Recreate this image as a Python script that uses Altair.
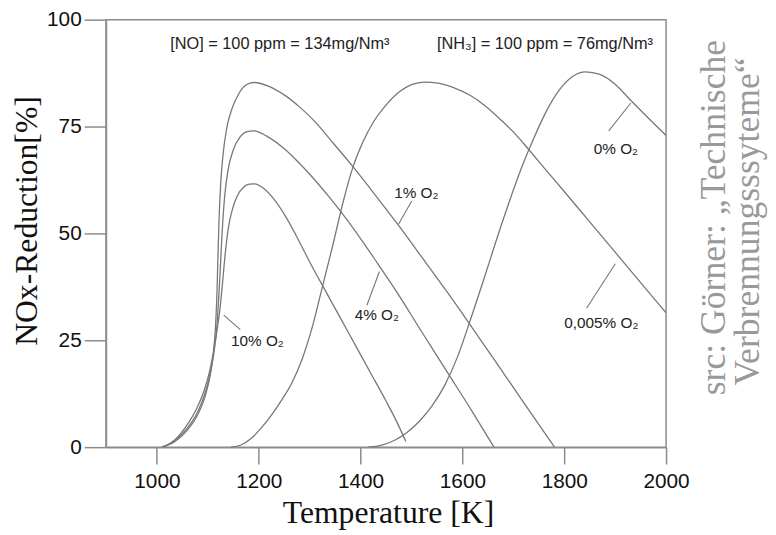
import altair as alt
import pandas as pd

# ---- curve data (Temperature [K], NOx reduction [%]) ----
names = ["10% O₂", "4% O₂", "1% O₂", "0,005% O₂", "0% O₂"]

t_10 = [1010, 1035, 1058, 1078, 1093, 1105, 1113, 1119, 1124, 1129, 1134, 1140, 1148, 1158, 1170, 1182, 1192,
        1210, 1230, 1255, 1280, 1305, 1330, 1360, 1390, 1420, 1450, 1470, 1489]
r_10 = [0, 1.7, 5, 9, 13.3, 18.5, 23.5, 28, 32.5, 38.5, 45, 51, 55.5, 58.8, 60.8, 61.5, 61.6,
        60.5, 58, 53.5, 48, 42.2, 36.8, 30.3, 23.8, 17.3, 10.8, 6.2, 1.3]

t_4 = [1010, 1035, 1060, 1080, 1095, 1106, 1113, 1118, 1121, 1124, 1128, 1133, 1140, 1150, 1163, 1177, 1190,
       1215, 1245, 1275, 1305, 1335, 1365, 1400, 1435, 1470, 1520, 1570, 1620, 1662]
r_4 = [0, 1.5, 4.5, 8.2, 12.8, 18, 23, 28.5, 34, 40.5, 50, 58.5, 65, 69.5, 72.5, 73.8, 74,
       72.8, 70.3, 67, 63.2, 59, 54.5, 48.8, 42.7, 36.5, 27, 17.6, 8.2, 0]

t_1 = [1010, 1035, 1060, 1080, 1095, 1105, 1111, 1115, 1118, 1120, 1122, 1125, 1130, 1137, 1147, 1160, 1175, 1190,
       1220, 1250, 1280, 1310, 1340, 1385, 1430, 1475, 1520, 1570, 1620, 1670, 1720, 1781]
r_1 = [0, 1.3, 4, 7.5, 12, 17, 22, 28, 36, 45, 53, 61, 68.5, 74.5, 79, 82.5, 84.7, 85.3,
       84.4, 82.4, 79.6, 76.2, 72, 65.6, 58.8, 51.8, 44.5, 36.3, 27.8, 19.2, 10.5, 0]

t_0005 = [1145, 1165, 1185, 1205, 1225, 1245, 1265, 1285, 1305, 1325, 1345, 1365, 1385, 1405, 1425, 1450,
          1475, 1500, 1525, 1555, 1585, 1615, 1645, 1675, 1705, 1729, 1760, 1800, 1850, 1900, 1950, 2000]
r_0005 = [0, 0.5, 2, 4.5, 7.5, 11, 15, 20.5, 28, 37.5, 47, 57, 65.5, 71.5, 76, 80,
          83, 84.8, 85.4, 85.1, 84, 82.3, 79.8, 76.6, 73.1, 69.8, 65.4, 59.8, 52.7, 45.6, 38.5, 31.4]

t_0 = [1415, 1440, 1465, 1490, 1515, 1540, 1565, 1590, 1615, 1640, 1665, 1690, 1715, 1740, 1765, 1790,
       1815, 1842, 1870, 1900, 1930, 1965, 2000]
r_0 = [0, 0.4, 1.5, 3.3, 6, 9.6, 14.4, 21, 29.5, 38.5, 47.8, 56.7, 65, 72.2, 78.6, 83.5,
       86.6, 87.8, 87.2, 84.9, 81.2, 77, 72.9]

# ---- curve labels and leader lines ----
lab_T = [1145.5, 1388.5, 1466, 1800, 1858]
lab_R = [23.6, 29.8, 58.2, 27.9, 68.6]
lead_T1 = [1131.3, 1437, 1500.6, 1900.2, 1930.7]
lead_R1 = [30.9, 41.1, 57.6, 42.9, 80.5]
lead_T2 = [1163.8, 1412.5, 1474.7, 1843.9, 1887.4]
lead_R2 = [27.5, 33.2, 52.2, 32.5, 74]

# ---- top annotations ----
ann_text = ["[NO] = 100 ppm = 134mg/Nm³", "[NH₃] = 100 ppm = 76mg/Nm³"]
ann_T = [1026, 1550]
ann_R = [93.2, 93.2]

src_lines = ["src: Görner: „Technische", "Verbrennungsssyteme“"]

x_ticks = [1000, 1200, 1400, 1600, 1800, 2000]
y_ticks = [0, 25, 50, 75, 100]

# ---- build tables ----
rows = []
for name, ts, rs in zip(names, [t_10, t_4, t_1, t_0005, t_0], [r_10, r_4, r_1, r_0005, r_0]):
    for i, (t, r) in enumerate(zip(ts, rs)):
        rows.append({"series": name, "T": t, "R": r, "order": i})
df = pd.DataFrame(rows)
df_lab = pd.DataFrame({"label": names, "T": lab_T, "R": lab_R})
df_lead = pd.DataFrame({"T": lead_T1, "R": lead_R1, "T2": lead_T2, "R2": lead_R2})
df_ann = pd.DataFrame({"label": ann_text, "T": ann_T, "R": ann_R})

GRAY = "#8c8c8c"
LINE = "#777777"

xscale = alt.Scale(domain=[900, 2000], nice=False, zero=False)
yscale = alt.Scale(domain=[0, 100], nice=False, zero=False)

xaxis = alt.Axis(values=x_ticks, grid=False, tickSize=17, tickColor=GRAY, tickWidth=1.5,
                 domainColor=GRAY, domainWidth=1.5, labelFont="Liberation Sans", labelFontSize=21,
                 labelColor="#111111", labelBaseline="alphabetic", labelPadding=24, labelFlush=False,
                 titleFont="Liberation Serif", titleFontSize=32, titleFontWeight="normal",
                 titleColor="#111111", titleX=285, titleY=76, titleBaseline="alphabetic",
                 titleAlign="center", format="d")
yaxis = alt.Axis(values=y_ticks, grid=False, tickSize=22, tickColor=GRAY, tickWidth=1.5,
                 domainColor=GRAY, domainWidth=1.5, labelFont="Liberation Sans", labelFontSize=21,
                 labelColor="#111111", labelPadding=3, labelFlush=False,
                 titleFont="Liberation Serif", titleFontSize=32, titleFontWeight="normal",
                 titleColor="#111111", titleX=-70, titleY=203, titleAngle=270,
                 titleBaseline="alphabetic", titleAlign="center")

X = alt.X("T:Q", scale=xscale, axis=xaxis, title="Temperature [K]")
Y = alt.Y("R:Q", scale=yscale, axis=yaxis, title="NOx-Reduction[%]")

lines = alt.Chart(df).mark_line(color=LINE, strokeWidth=1.3, interpolate="monotone", clip=True).encode(
    x=X, y=Y, detail="series:N", order="order:Q")

leaders = alt.Chart(df_lead).mark_rule(color=LINE, strokeWidth=1.1).encode(
    x=X, y=Y, x2="T2:Q", y2="R2:Q")

labels = alt.Chart(df_lab).mark_text(font="Liberation Sans", fontSize=15.5, color="#222222",
                                     align="left", baseline="alphabetic").encode(
    x=X, y=Y, text="label:N")

ann = alt.Chart(df_ann).mark_text(font="Liberation Sans", fontSize=16.5, color="#222222",
                                  align="left", baseline="alphabetic").encode(
    x=X, y=Y, text="label:N")

src1 = alt.Chart(pd.DataFrame({"label": [src_lines[0]]})).mark_text(
    font="Liberation Serif", fontSize=36, color="#999999", angle=270,
    align="center", baseline="alphabetic").encode(
    x=alt.value(626), y=alt.value(200), text="label:N")
src2 = alt.Chart(pd.DataFrame({"label": [src_lines[1]]})).mark_text(
    font="Liberation Serif", fontSize=36, color="#999999", angle=270,
    align="center", baseline="alphabetic").encode(
    x=alt.value(660), y=alt.value(204), text="label:N")

chart = alt.layer(lines, leaders, labels, ann, src1, src2).properties(
    width=566, height=432,
    padding={"left": 99, "top": 9, "right": 103, "bottom": 86},
    autosize=alt.AutoSizeParams(type="none"),
    background="white",
).configure_view(stroke=GRAY, strokeWidth=1.5)

chart.save("out.html", embed_options={"renderer": "svg", "actions": False})
